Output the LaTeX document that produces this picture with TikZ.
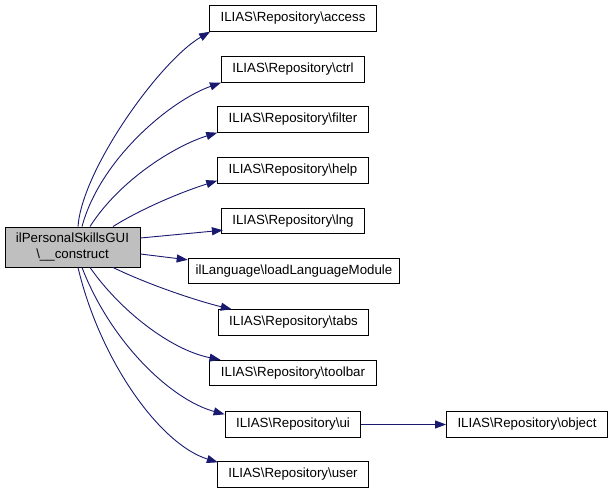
\documentclass[tikz,border=0pt]{standalone}
\usepackage{fontspec}
\setmainfont{Liberation Sans}
\usetikzlibrary{arrows.meta}
\definecolor{edgeblue}{HTML}{191970}
\definecolor{maingray}{HTML}{BFBFBF}
\begin{document}
\begin{tikzpicture}[x=1pt,y=-1pt,
		fnbox/.style={draw=black,line width=0.9pt,fill=white,inner xsep=11pt,inner ysep=0pt,minimum height=25.5pt,font=\fontsize{13.3}{16}\selectfont},
		call/.style={draw=edgeblue,line width=0.9pt,-{Triangle[length=11pt,width=8pt]}}]
			\useasboundingbox (0,0) rectangle (613,493);
			\node[fnbox,fill=maingray,align=center,minimum width=135pt,minimum height=40pt,inner xsep=2pt] (main) at (72.5,247) {ilPersonalSkillsGUI\\\textbackslash\_\_construct};
			\node[fnbox] (access) at (293,18.5) {ILIAS\textbackslash Repository\textbackslash access};
			\node[fnbox] (ctrl) at (293,69.5) {ILIAS\textbackslash Repository\textbackslash ctrl};
			\node[fnbox] (filter) at (293,119.5) {ILIAS\textbackslash Repository\textbackslash filter};
			\node[fnbox] (help) at (293,170.5) {ILIAS\textbackslash Repository\textbackslash help};
			\node[fnbox] (lng) at (293,221) {ILIAS\textbackslash Repository\textbackslash lng};
			\node[fnbox,inner xsep=7.5pt] (lang) at (294,271) {ilLanguage\textbackslash loadLanguageModule};
			\node[fnbox] (tabs) at (293.5,322.5) {ILIAS\textbackslash Repository\textbackslash tabs};
			\node[fnbox] (toolbar) at (293,373) {ILIAS\textbackslash Repository\textbackslash toolbar};
			\node[fnbox] (ui) at (293,424.5) {ILIAS\textbackslash Repository\textbackslash ui};
			\node[fnbox] (object) at (527,424.5) {ILIAS\textbackslash Repository\textbackslash object};
			\node[fnbox] (user) at (293,474.5) {ILIAS\textbackslash Repository\textbackslash user};
			\draw[call] ([xshift=5.5pt]main.north) .. controls +(4,-57) and +(-50,29) .. ([xshift=1pt]access.south west);
			\draw[call] ([xshift=9.5pt]main.north) .. controls +(18,-67) and +(-51,18) .. (ctrl.south west);
			\draw[call] ([xshift=17.5pt]main.north) .. controls +(30,-47) and +(-42,13) .. (filter.south west);
			\draw[call] ([xshift=40.5pt]main.north) .. controls +(27,-17) and +(-38,12) .. ([yshift=3pt]help.south west);
			\draw[call] ([yshift=9pt]main.east) -- ([xshift=2pt,yshift=4pt]lng.south west);
			\draw[call] ([yshift=-7pt]main.east) -- ([yshift=-2pt]lang.north west);
			\draw[call] ([xshift=40.5pt]main.south) .. controls +(37,18) and +(-33,-8) .. ([xshift=14pt]tabs.north west);
			\draw[call] ([xshift=17.5pt]main.south) .. controls +(30,43) and +(-50,-10) .. ([xshift=11pt]toolbar.north west);
			\draw[call] ([xshift=9.5pt]main.south) .. controls +(28,73) and +(-55,-15) .. ([yshift=-3pt]ui.north west);
			\draw[call] ([xshift=5.5pt]main.south) .. controls +(22,93) and +(-58,-18) .. ([xshift=1pt,yshift=-1pt]user.north west);
			\draw[call] (ui) -- (object);
		\end{tikzpicture}
\end{document}
